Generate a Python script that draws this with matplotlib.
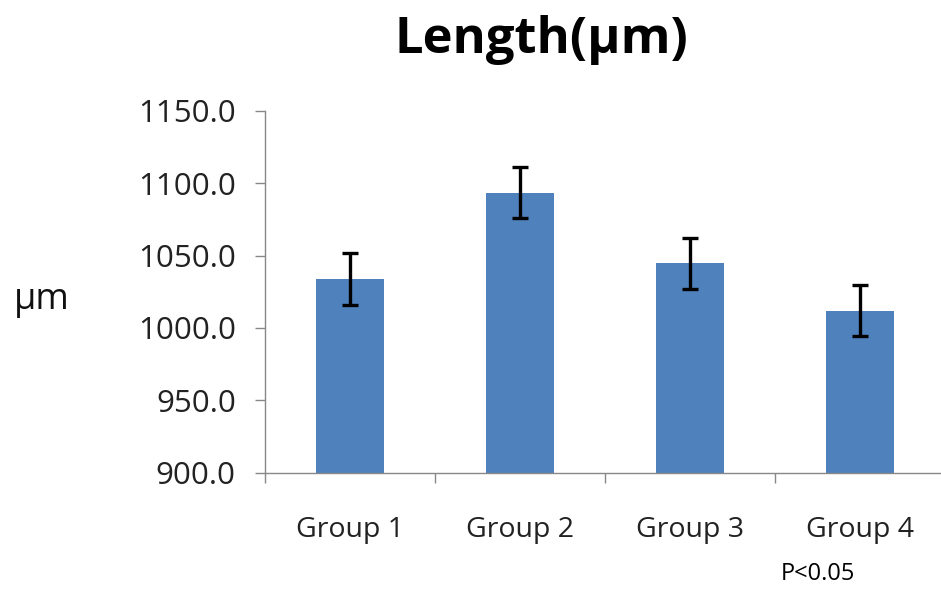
import matplotlib
matplotlib.use("Agg")
import matplotlib.pyplot as plt
import numpy as np

categories = ["Group 1", "Group 2", "Group 3", "Group 4"]
values = [1033.5, 1093.4, 1044.6, 1011.7]
errors = [18.0, 17.6, 17.4, 17.6]
yticks = [900, 950, 1000, 1050, 1100, 1150]

plt.rcParams['font.family'] = ['Open Sans', 'DejaVu Sans']

fig = plt.figure(figsize=(9.41, 5.90), dpi=100)
ax = fig.add_axes([265/941, 117.3/590, 680/941, 362/590])
x = np.arange(len(categories))
ax.bar(x, values, width=0.4, color="#4F81BD", zorder=2)
ax.errorbar(x, values, yerr=errors, fmt="none", ecolor="black",
            elinewidth=2.4, capsize=6, capthick=2.4, zorder=3)

ax.set_xlim(-0.5, 3.5)
ax.set_ylim(900, 1150)
ax.set_yticks(yticks)
ax.set_yticklabels([f"{v:.1f}" for v in yticks])
ax.set_xticks(x)
ax.set_xticklabels(categories)
ax.set_xticks(np.arange(-0.5, 4.0, 1.0), minor=True)
ax.tick_params(axis="x", which="major", length=0, pad=31, labelsize=20.5, colors="#222222")
ax.tick_params(axis="x", which="minor", length=7, width=1, color="#888888")
ax.tick_params(axis="y", length=7, width=1, color="#888888", labelsize=22.5, pad=14, labelcolor="#222222")
for s in ["top", "right"]:
    ax.spines[s].set_visible(False)
for s in ["left", "bottom"]:
    ax.spines[s].set_color("#888888")
    ax.spines[s].set_linewidth(1)

fig.text(541/941, 1 - 40/590, "Length(μm)", ha="center", va="center",
         fontsize=36.5, fontweight="bold", color="black")
fig.text(42/941, 1 - 300/590, "μm", ha="center", va="center", fontsize=26, color="#111111")
fig.text(818/941, 1 - 574/590, "P<0.05", ha="center", va="center", fontsize=17,
         fontweight="medium", color="black")

fig.savefig("out.png", dpi=100)
